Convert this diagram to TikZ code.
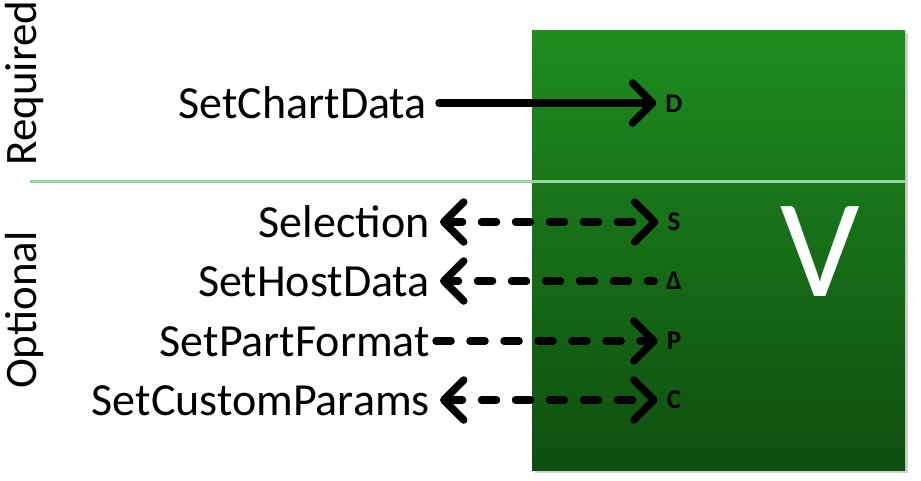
\documentclass[tikz,border=0pt]{standalone}
\usepackage{fontspec}
\setmainfont{Carlito}
\usetikzlibrary{arrows.meta,positioning}

\definecolor{boxtop}{HTML}{1F8C1F}
\definecolor{boxbot}{HTML}{0E4F0F}
\definecolor{sepline}{HTML}{93D6A2}

\begin{document}
\begin{tikzpicture}[
    x=1pt, y=-1pt,
    >={Straight Barb[length=20pt, width=40pt, round]},
    lbl/.style   ={font=\fontsize{46}{46}\selectfont, anchor=east, inner sep=0pt,
                   text height=30pt, text depth=0pt},
    side/.style  ={font=\fontsize{45}{45}\selectfont, rotate=90, inner sep=0pt},
    port/.style  ={font=\fontsize{27}{27}\selectfont\bfseries, inner sep=0pt},
    flow/.style  ={line width=7.5pt, line cap=round, black},
    opt/.style   ={flow, dash pattern=on 15pt off 19pt},
]
\useasboundingbox (0,0) rectangle (921,480);

% ----------------------------------------------------------------------
%  visual block V
% ----------------------------------------------------------------------
\fill[black!18] (535,33) rectangle (908,473);
\shade[top color=boxtop, bottom color=boxbot] (532,30) rectangle (905,470);
\draw[sepline, line width=3pt] (30,181) -- (905,181);
\node[text=white, font=\fontsize{140}{140}\selectfont, inner sep=0pt] (vname) at (820,252) {V};

% --- sections ---
\node[side] (required) at (25,83)  {Required};
\node[side] (optional) at (25,310) {Optional};

% --- ports ---
\node[port] (pD) at (674,104) {D};
\node[port] (pS) at (674,222) {S};
\node[port] (pH) at (674,281) {Δ};
\node[port] (pP) at (674,341) {P};
\node[port] (pC) at (674,400) {C};

% --- interface calls ---
\node[lbl] (chartdata)  at (427,103) {SetChartData};
\node[lbl] (selection)  at (430,222) {Selection};
\node[lbl] (hostdata)   at (430,281) {SetHostData};
\node[lbl] (partformat) at (430,341) {SetPartFormat};
\node[lbl] (customprm)  at (430,400) {SetCustomParams};

% --- edges ---
\draw[flow, ->]  ([xshift=12pt]chartdata.east)  -- ([xshift=-9pt]chartdata.east -| pD.west);
\draw[opt, <->]  ([xshift=10pt]selection.east)  -- ([xshift=-9pt]selection.east -| pS.west);
\draw[opt, <-, dash phase=4pt]
                 ([xshift=10pt]hostdata.east)   -- ([xshift=-12pt]hostdata.east -| pH.west);
\draw[opt, ->]   ([xshift=6pt]partformat.east)  -- ([xshift=-9pt]partformat.east -| pP.west);
\draw[opt, <->]  ([xshift=10pt]customprm.east)  -- ([xshift=-9pt]customprm.east -| pC.west);

\end{tikzpicture}
\end{document}
